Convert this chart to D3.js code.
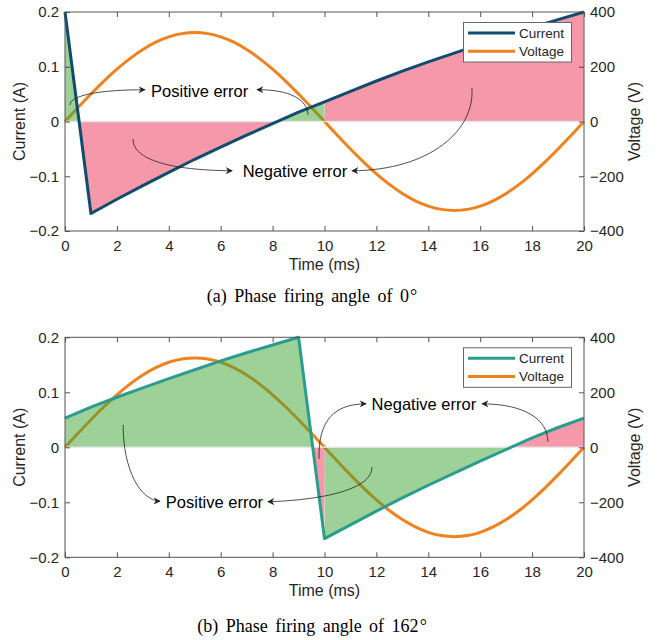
<!DOCTYPE html>
<html><head><meta charset="utf-8">
<script src="https://cdn.jsdelivr.net/npm/d3@7"></script>
<style>body{margin:0;background:#fff}</style>
</head><body><svg id="c" width="662" height="640"></svg>
<script>
// ---- data ----
const timeI = [0,1,2,3,4,5,6,7,8,9,10,11,12,13,14,15,16,17,18,19,20];
const currentA = [0.200,-0.168,-0.142,-0.117,-0.093,-0.069,-0.047,-0.025,-0.004,0.017,0.036,0.055,0.074,0.092,0.109,0.125,0.141,0.157,0.172,0.186,0.200];
const currentB = [0.053,0.073,0.091,0.108,0.125,0.141,0.157,0.172,0.186,0.200,-0.166,-0.141,-0.116,-0.092,-0.069,-0.047,-0.025,-0.004,0.017,0.036,0.053];
const timeV = [0,0.5,1,1.5,2,2.5,3,3.5,4,4.5,5,5.5,6,6.5,7,7.5,8,8.5,9,9.5,10,10.5,11,11.5,12,12.5,13,13.5,14,14.5,15,15.5,16,16.5,17,17.5,18,18.5,19,19.5,20];
const voltage = [0,50.8,100.4,147.6,191.0,229.8,262.9,289.6,309.1,321.0,325,321.0,309.1,289.6,262.9,229.8,191.0,147.6,100.4,50.8,0,-50.8,-100.4,-147.6,-191.0,-229.8,-262.9,-289.6,-309.1,-321.0,-325,-321.0,-309.1,-289.6,-262.9,-229.8,-191.0,-147.6,-100.4,-50.8,0];
const xTicks = [0,2,4,6,8,10,12,14,16,18,20];
const iTicks = [-0.2,-0.1,0,0.1,0.2];
const vTicks = [-400,-200,0,200,400];
const seriesNames = ["Current","Voltage"];
const captions = ["(a) Phase firing angle of 0", "(b) Phase firing angle of 162"];
const labelPositive = "Positive error", labelNegative = "Negative error";

const svg = d3.select("#c");
const FONT = "'Liberation Sans', Arial, Helvetica, sans-serif";
const AX = "#262626";

const x = d3.scaleLinear().domain([0,20]).range([65,584]);

function panel(cfg){
  const g = svg.append("g");
  const y = d3.scaleLinear().domain([-0.2,0.2]).range([cfg.bottom,cfg.top]);
  const yv = d3.scaleLinear().domain([-400,400]).range([cfg.bottom,cfg.top]);
  const iF = d3.scaleLinear().domain(timeI).range(cfg.current);
  const vF = d3.scaleLinear().domain(timeV).range(voltage);

  // voltage line
  g.append("path").datum(timeV.map((t,i)=>[t,voltage[i]]))
    .attr("fill","none").attr("stroke","#f0821e").attr("stroke-width",3)
    .attr("d", d3.line().x(d=>x(d[0])).y(d=>yv(d[1])).curve(d3.curveMonotoneX));

  // error fills
  const samples = d3.range(0,2001).map(k=>k/100);
  const mk = sign => d3.area().x(t=>x(t)).y0(y(0))
      .y1(t=>{const a=iF(t), p=a*vF(t); return (sign>0? p>0 : p<0) ? y(a) : y(0);});
  g.append("path").datum(samples).attr("fill","rgb(59,163,49)").attr("fill-opacity",0.5).attr("d",mk(1));
  g.append("path").datum(samples).attr("fill","rgb(233,49,85)").attr("fill-opacity",0.5).attr("d",mk(-1));

  // zero line
  g.append("line").attr("x1",x(0)).attr("x2",x(20)).attr("y1",y(0)).attr("y2",y(0))
    .attr("stroke","#e8e8e8").attr("stroke-opacity",0.85).attr("stroke-width",1.5);

  // current line
  g.append("path").datum(timeI.map((t,i)=>[t,cfg.current[i]]))
    .attr("fill","none").attr("stroke",cfg.color).attr("stroke-width",3).attr("stroke-linejoin","round")
    .attr("d", d3.line().x(d=>x(d[0])).y(d=>y(d[1])));

  // axes
  const styleAxis = sel => {
    sel.select(".domain").remove();
    sel.selectAll(".tick line").attr("stroke",AX).attr("stroke-width",0.8);
    sel.selectAll(".tick text").attr("fill",AX).style("font-family",FONT).style("font-size","15px");
  };
  g.append("g").attr("transform",`translate(0,${cfg.bottom})`)
    .call(d3.axisBottom(x).tickValues(xTicks).tickFormat(d3.format("d")).tickSizeInner(-5).tickSizeOuter(0).tickPadding(9)).call(styleAxis);
  g.append("g").attr("transform",`translate(0,${cfg.top})`)
    .call(d3.axisTop(x).tickValues(xTicks).tickFormat("").tickSizeInner(-5).tickSizeOuter(0)).call(styleAxis);
  g.append("g").attr("transform",`translate(${x(0)},0)`)
    .call(d3.axisLeft(y).tickValues(iTicks).tickFormat(d=>d===0?"0":d3.format(".1f")(d)).tickSizeInner(-5).tickSizeOuter(0).tickPadding(6)).call(styleAxis);
  g.append("g").attr("transform",`translate(${x(20)},0)`)
    .call(d3.axisRight(yv).tickValues(vTicks).tickFormat(d3.format("d")).tickSizeInner(-5).tickSizeOuter(0).tickPadding(6)).call(styleAxis);
  g.append("rect").attr("x",x(0)).attr("y",cfg.top).attr("width",x(20)-x(0)).attr("height",cfg.bottom-cfg.top)
    .attr("fill","none").attr("stroke","#555").attr("stroke-width",1);

  // axis titles
  const mid = (cfg.top+cfg.bottom)/2;
  g.append("text").attr("x",(x(0)+x(20))/2).attr("y",cfg.bottom+39).attr("text-anchor","middle")
    .attr("fill",AX).style("font-family",FONT).style("font-size","16px").text("Time (ms)");
  g.append("text").attr("transform",`translate(19,${mid}) rotate(-90)`).attr("text-anchor","middle").attr("dominant-baseline","central")
    .attr("fill",AX).style("font-family",FONT).style("font-size","16px").text("Current (A)");
  g.append("text").attr("transform",`translate(634,${mid}) rotate(-90)`).attr("text-anchor","middle").attr("dominant-baseline","central")
    .attr("fill",AX).style("font-family",FONT).style("font-size","16px").text("Voltage (V)");

  // legend
  const ly = cfg.top+10.5;
  const lg = g.append("g");
  lg.append("rect").attr("x",463.5).attr("y",ly).attr("width",108).attr("height",39.5)
    .attr("fill","#fff").attr("stroke","#666").attr("stroke-width",1);
  [[cfg.color,seriesNames[0]],["#f0821e",seriesNames[1]]].forEach((e,i)=>{
    const yy = ly+10.5+i*18.3;
    lg.append("line").attr("x1",468).attr("x2",515).attr("y1",yy).attr("y2",yy).attr("stroke",e[0]).attr("stroke-width",3);
    lg.append("text").attr("x",519).attr("y",yy).attr("dominant-baseline","central").attr("fill",AX)
      .style("font-family",FONT).style("font-size","13.5px").text(e[1]);
  });

  // annotations
  cfg.labels.forEach(l=>{
    g.append("text").attr("x",x(l.t)).attr("y",y(l.v)).attr("text-anchor","middle").attr("dominant-baseline","central")
      .attr("fill","#000").style("font-family",FONT).style("font-size","16.5px").text(l.text);
  });
  cfg.arrows.forEach(a=>{
    const p = a.map(d=>[x(d[0]),y(d[1])]);
    g.append("path").attr("d",`M${p[0]}C${p[1]} ${p[2]} ${p[3]}`).attr("fill","none")
      .attr("stroke","#222").attr("stroke-width",0.8).attr("marker-end","url(#ah)");
  });

  // caption
  const cap = g.append("text").attr("x",312).attr("y",cfg.captionY).attr("text-anchor","middle")
    .attr("fill","#000").style("font-family","'Liberation Serif','Times New Roman',serif").style("font-size","18px")
    .style("word-spacing","3px").text(cfg.caption);
  cap.append("tspan").attr("dx",1).text("°");
}

svg.append("defs").append("marker").attr("id","ah").attr("viewBox","0 0 10 10").attr("refX",9).attr("refY",5)
  .attr("markerWidth",7).attr("markerHeight",7).attr("markerUnits","userSpaceOnUse").attr("orient","auto")
  .append("path").attr("d","M0,0 L10,5 L0,10 L3,5 Z").attr("fill","#222");

panel({top:12, bottom:231, current:currentA, color:"#0f4c6e", captionY:302, caption:captions[0],
  labels:[{t:5.19,v:0.056,text:labelPositive},{t:8.86,v:-0.090,text:labelNegative}],
  arrows:[
    [[0.19,0.030],[0.19,0.048],[1.35,0.058],[3.08,0.058]],
    [[9.36,0.012],[9.36,0.039],[8.67,0.059],[7.40,0.058]],
    [[2.62,-0.032],[2.62,-0.070],[4.05,-0.089],[6.44,-0.090]],
    [[15.68,0.061],[15.80,-0.016],[14.07,-0.089],[11.06,-0.090]]
  ]});
panel({top:337.3, bottom:557.3, current:currentB, color:"#2a9d8f", captionY:632, caption:captions[1],
  labels:[{t:13.83,v:0.078,text:labelNegative},{t:5.76,v:-0.099,text:labelPositive}],
  arrows:[
    [[9.79,-0.021],[9.75,0.050],[10.40,0.079],[11.60,0.079]],
    [[18.61,0.010],[18.61,0.050],[17.73,0.079],[16.07,0.079]],
    [[2.24,0.041],[2.24,-0.041],[2.89,-0.096],[3.66,-0.098]],
    [[11.83,-0.036],[11.83,-0.078],[9.83,-0.096],[7.82,-0.099]]
  ]});
</script></body></html>
